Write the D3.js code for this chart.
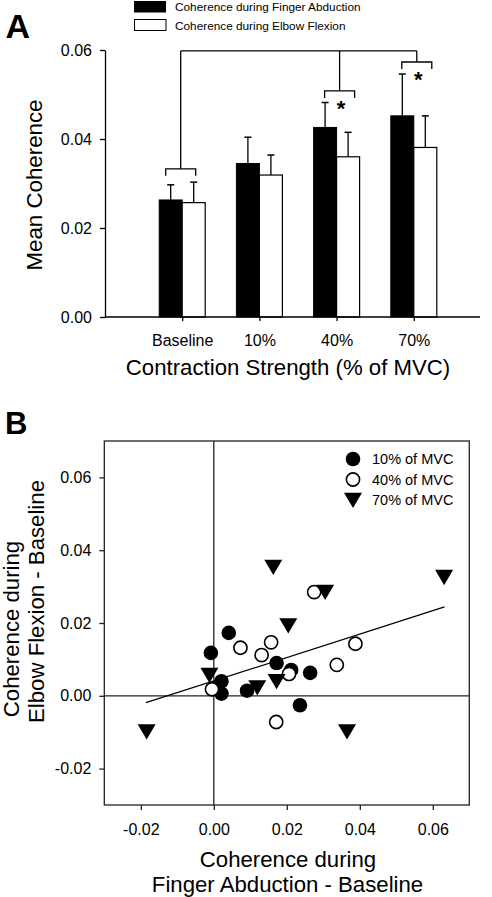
<!DOCTYPE html>
<html><head><meta charset="utf-8">
<script src="https://cdn.jsdelivr.net/npm/d3@7"></script>
<style>
html,body{margin:0;padding:0;background:#fff;}
text{font-family:"Liberation Sans",Arial,Helvetica,sans-serif;fill:#000;}
</style></head>
<body>
<script>
// ---------- Panel A data ----------
const categories = ["Baseline", "10%", "40%", "70%"];
const fingerMean = [0.0263, 0.0345, 0.0426, 0.0452];
const fingerErr  = [0.0034, 0.0059, 0.0056, 0.0094];
const elbowMean  = [0.0257, 0.0319, 0.0360, 0.0381];
const elbowErr   = [0.0046, 0.0045, 0.0055, 0.0071];
const yTicksA = [0.00, 0.02, 0.04, 0.06];
const seriesNamesA = ["Coherence during Finger Abduction", "Coherence during Elbow Flexion"];
// significance brackets (level in coherence units), top connector level
const bracketLevel = [0.0333, null, 0.0508, 0.0573];
const starShown = [false, false, true, true];
const connectorLevel = 0.0598;

// ---------- Panel B data ----------
const mvc10 = [[-0.0008,0.0118],[0.0041,0.0173],[0.0021,0.0040],[0.0021,0.0006],[0.0091,0.0014],[0.0172,0.0090],[0.0212,0.0071],[0.0264,0.0063],[0.0236,-0.0026]];
const mvc40 = [[-0.0005,0.0018],[0.0073,0.0132],[0.0131,0.0112],[0.0157,0.0147],[0.0206,0.0060],[0.0275,0.0285],[0.0337,0.0085],[0.0388,0.0143],[0.0171,-0.0072]];
const mvc70 = [[0.0163,0.0354],[0.0631,0.0326],[0.0305,0.0285],[0.0204,0.0193],[-0.0012,0.0057],[0.0119,0.0023],[0.0172,0.0040],[-0.0184,-0.0098],[0.0365,-0.0098]];
const fitLine = [[-0.0186,-0.0019],[0.0632,0.0244]];
const ticksB = [-0.02, 0.00, 0.02, 0.04, 0.06];
const legendB = ["10% of MVC", "40% of MVC", "70% of MVC"];

const W = 492, H = 897;
const svg = d3.select("body").append("svg").attr("width", W).attr("height", H);
svg.append("rect").attr("width", W).attr("height", H).attr("fill", "#fff");
const f2 = d3.format(".2f");
const fmt = v => f2(v).replace("\u2212", "-");

// ================= PANEL A =================
const xA = d3.scalePoint().domain(categories).range([105, 491]).padding(1);
const yA = d3.scaleLinear().domain([0, 0.06]).range([317, 50]);
const barW = 23;
const gA = svg.append("g");

// bars
categories.forEach((c, i) => {
  const cx = xA(c);
  gA.append("rect").attr("x", cx - barW).attr("y", yA(fingerMean[i]))
    .attr("width", barW).attr("height", yA(0) - yA(fingerMean[i]))
    .attr("fill", "#000").attr("stroke", "#000").attr("stroke-width", 1);
  gA.append("rect").attr("x", cx).attr("y", yA(elbowMean[i]))
    .attr("width", barW).attr("height", yA(0) - yA(elbowMean[i]))
    .attr("fill", "#fff").attr("stroke", "#000").attr("stroke-width", 1.2);
  [[cx - barW / 2, fingerMean[i], fingerErr[i]], [cx + barW / 2, elbowMean[i], elbowErr[i]]].forEach(([ex, m, e]) => {
    gA.append("line").attr("x1", ex).attr("x2", ex).attr("y1", yA(m)).attr("y2", yA(m + e))
      .attr("stroke", "#000").attr("stroke-width", 1.3);
    gA.append("line").attr("x1", ex - 3.5).attr("x2", ex + 3.5).attr("y1", yA(m + e)).attr("y2", yA(m + e))
      .attr("stroke", "#000").attr("stroke-width", 1.5);
  });
});

// brackets
const bracketHalf = 15, bracketTick = 7;
const bracketCenter = (i) => xA(categories[i]) + (i === 0 ? -1.5 : 3);
categories.forEach((c, i) => {
  if (bracketLevel[i] == null) return;
  const bc = bracketCenter(i), by = yA(bracketLevel[i]);
  gA.append("path")
    .attr("d", `M${bc - bracketHalf},${by + bracketTick}V${by}H${bc + bracketHalf}V${by + bracketTick}`)
    .attr("fill", "none").attr("stroke", "#000").attr("stroke-width", 1.3);
  gA.append("line").attr("x1", bc).attr("x2", bc).attr("y1", by).attr("y2", yA(connectorLevel))
    .attr("stroke", "#000").attr("stroke-width", 1.3);
  if (starShown[i]) {
    gA.append("text").attr("x", bc + 1.5).attr("y", by + 25)
      .attr("text-anchor", "middle").attr("font-size", 22).attr("font-weight", "bold").text("*");
  }
});
const withBr = categories.map((c, i) => i).filter(i => bracketLevel[i] != null);
gA.append("line")
  .attr("x1", bracketCenter(withBr[0])).attr("x2", bracketCenter(withBr[withBr.length - 1]))
  .attr("y1", yA(connectorLevel)).attr("y2", yA(connectorLevel))
  .attr("stroke", "#000").attr("stroke-width", 1.3);

// axes A
const axL = gA.append("g").attr("transform", "translate(105,0)")
  .call(d3.axisLeft(yA).tickValues(yTicksA).tickFormat(fmt).tickSize(5).tickPadding(8).tickSizeOuter(0));
axL.selectAll("text").attr("font-size", 16).attr("font-family", "Liberation Sans, Arial, sans-serif");
const axB = gA.append("g").attr("transform", "translate(0,317)")
  .call(d3.axisBottom(xA).tickSize(4).tickPadding(14).tickSizeOuter(0));
axB.select(".domain").attr("d", "M105,0H480");
axB.selectAll("text").attr("font-size", 16).attr("font-family", "Liberation Sans, Arial, sans-serif");
gA.selectAll(".domain, .tick line").attr("stroke", "#000").attr("stroke-width", 1.3);

// titles A
gA.append("text").attr("transform", "translate(41.5,185) rotate(-90)")
  .attr("text-anchor", "middle").attr("font-size", 22.3).text("Mean Coherence");
gA.append("text").attr("x", 288).attr("y", 375)
  .attr("text-anchor", "middle").attr("font-size", 22.2).text("Contraction Strength (% of MVC)");
svg.append("text").attr("x", 5.5).attr("y", 37.7).attr("font-size", 34).attr("font-weight", "bold").text("A");

// legend A
svg.append("rect").attr("x", 134).attr("y", 1).attr("width", 32).attr("height", 11.5).attr("fill", "#000");
svg.append("rect").attr("x", 134.5).attr("y", 19.5).attr("width", 31.5).attr("height", 11).attr("fill", "#fff")
  .attr("stroke", "#000").attr("stroke-width", 1);
svg.append("text").attr("x", 175).attr("y", 10.5).attr("font-size", 11.8).text(seriesNamesA[0]);
svg.append("text").attr("x", 175).attr("y", 30).attr("font-size", 11.8).text(seriesNamesA[1]);

// ================= PANEL B =================
const xB = d3.scaleLinear().domain([-0.03, 0.07]).range([104.3, 469.3]);
const yB = d3.scaleLinear().domain([-0.03, 0.07]).range([805, 441]);
const gB = svg.append("g");

gB.append("rect").attr("x", xB(-0.03)).attr("y", yB(0.07))
  .attr("width", xB(0.07) - xB(-0.03)).attr("height", yB(-0.03) - yB(0.07))
  .attr("fill", "none").attr("stroke", "#222").attr("stroke-width", 1.3);
gB.append("line").attr("x1", xB(0)).attr("x2", xB(0)).attr("y1", yB(0.07)).attr("y2", yB(-0.03))
  .attr("stroke", "#222").attr("stroke-width", 1.3);
gB.append("line").attr("x1", xB(-0.03)).attr("x2", xB(0.07)).attr("y1", yB(0)).attr("y2", yB(0))
  .attr("stroke", "#222").attr("stroke-width", 1.3);

const bL = gB.append("g").attr("transform", `translate(${xB(-0.03)},0)`)
  .call(d3.axisLeft(yB).tickValues(ticksB).tickFormat(fmt).tickSize(5).tickPadding(8).tickSizeOuter(0));
const bB = gB.append("g").attr("transform", `translate(0,${yB(-0.03)})`)
  .call(d3.axisBottom(xB).tickValues(ticksB).tickFormat(fmt).tickSize(5).tickPadding(13.5).tickSizeOuter(0));
[bL, bB].forEach(a => {
  a.select(".domain").remove();
  a.selectAll(".tick line").attr("stroke", "#222").attr("stroke-width", 1.3);
  a.selectAll("text").attr("font-size", 16).attr("font-family", "Liberation Sans, Arial, sans-serif");
});

gB.append("line")
  .attr("x1", xB(fitLine[0][0])).attr("y1", yB(fitLine[0][1]))
  .attr("x2", xB(fitLine[1][0])).attr("y2", yB(fitLine[1][1]))
  .attr("stroke", "#000").attr("stroke-width", 1.3);

const R = 7.3;
const triPath = "M-9,-7.3L9,-7.3L0,8Z";
gB.selectAll(".p10").data(mvc10).join("circle")
  .attr("cx", d => xB(d[0])).attr("cy", d => yB(d[1])).attr("r", R).attr("fill", "#000");
gB.selectAll(".p40").data(mvc40).join("circle")
  .attr("cx", d => xB(d[0])).attr("cy", d => yB(d[1])).attr("r", R - 0.7)
  .attr("fill", "#fff").attr("stroke", "#000").attr("stroke-width", 1.6);
gB.selectAll(".p70").data(mvc70).join("path")
  .attr("transform", d => `translate(${xB(d[0])},${yB(d[1])})`).attr("d", triPath).attr("fill", "#000");

const lgY = [459, 479.5, 500];
svg.append("circle").attr("cx", 353).attr("cy", lgY[0]).attr("r", R).attr("fill", "#000");
svg.append("circle").attr("cx", 353).attr("cy", lgY[1]).attr("r", R - 0.7).attr("fill", "#fff")
  .attr("stroke", "#000").attr("stroke-width", 1.6);
svg.append("path").attr("transform", `translate(353,${lgY[2]})`).attr("d", triPath).attr("fill", "#000");
legendB.forEach((t, i) => {
  svg.append("text").attr("x", 372).attr("y", lgY[i] + 5).attr("font-size", 14.5).text(t);
});

svg.append("text").attr("x", 5).attr("y", 433.5).attr("font-size", 31).attr("font-weight", "bold").text("B");
svg.append("text").attr("transform", "translate(18.5,629) rotate(-90)")
  .attr("text-anchor", "middle").attr("font-size", 22.2).text("Coherence during");
svg.append("text").attr("transform", "translate(43.5,601.5) rotate(-90)")
  .attr("text-anchor", "middle").attr("font-size", 22.2).text("Elbow Flexion - Baseline");
svg.append("text").attr("x", 288).attr("y", 866.5)
  .attr("text-anchor", "middle").attr("font-size", 22.2).text("Coherence during");
svg.append("text").attr("x", 287.5).attr("y", 892)
  .attr("text-anchor", "middle").attr("font-size", 22.2).text("Finger Abduction - Baseline");
</script>
</body></html>
